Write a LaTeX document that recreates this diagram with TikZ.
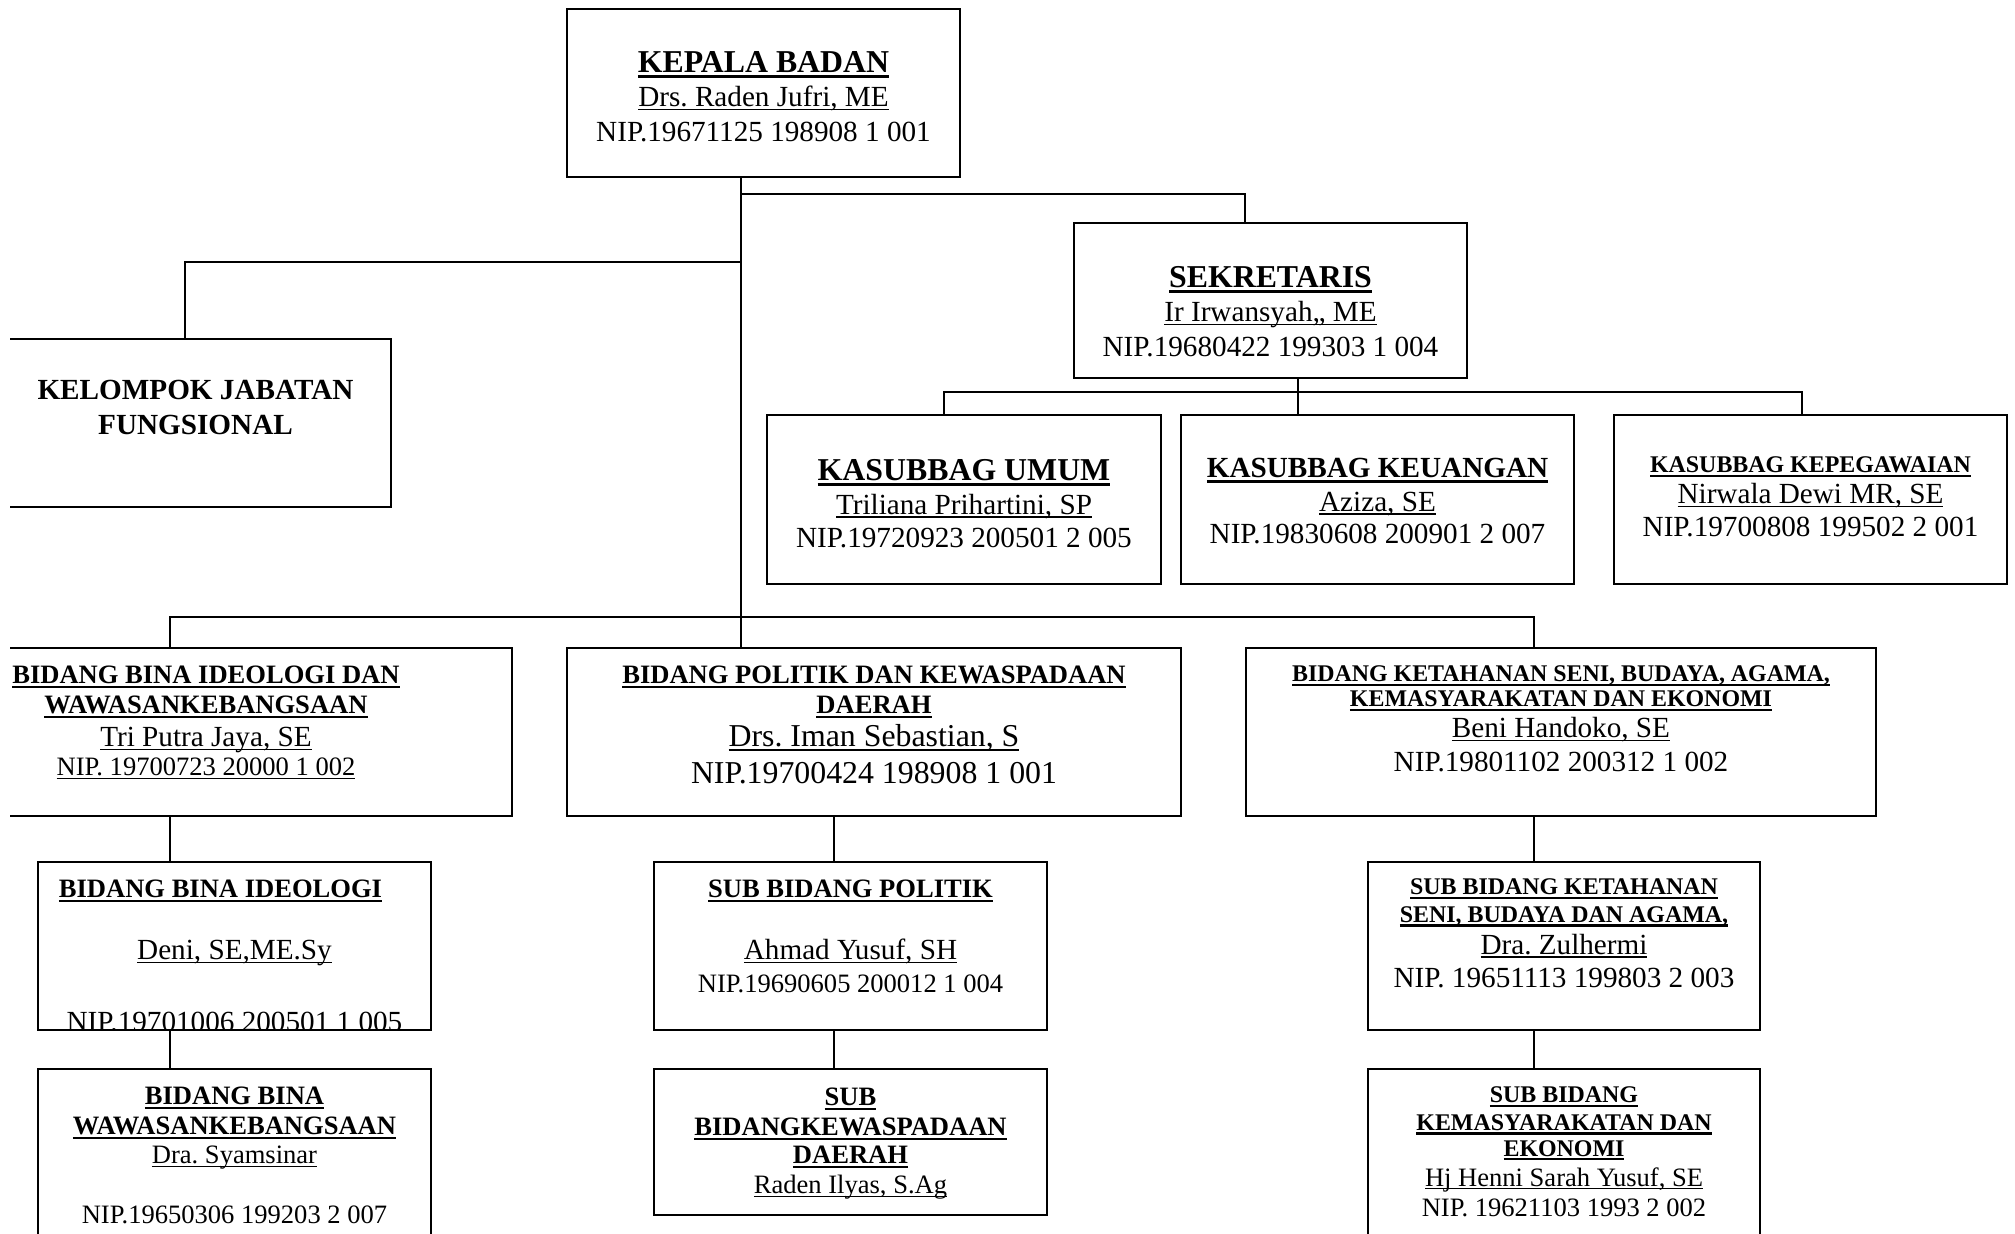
\documentclass[tikz,border=0pt]{standalone}
\usepackage{fontspec}
\setmainfont{Liberation Serif}
\usepackage{tikz}
\usetikzlibrary{calc}
\frenchspacing
% ukuran huruf (12, 11, 10, 9 pt dokumen asli)
\newcommand{\szXII}{\fontsize{9.05pt}{10.4pt}\selectfont}
\newcommand{\szXI}{\fontsize{8.3pt}{9.5pt}\selectfont}
\newcommand{\szX}{\fontsize{7.55pt}{8.7pt}\selectfont}
\newcommand{\szIX}{\fontsize{6.8pt}{7.8pt}\selectfont}
\newcommand{\isi}{\fontsize{8.3pt}{.30cm}\selectfont\lineskiplimit=-1cm\relax}
\newcommand{\garis}[2]{\leavevmode\setbox0=\hbox{#2}\rlap{\rule[\dimexpr-.07em-#1\relax]{\wd0}{#1}}\box0}
\newcommand{\jdl}[2]{{#1\bfseries\garis{.1em}{#2}}}
\newcommand{\nm}[2]{{#1\garis{.05em}{#2}}}
\tikzset{
  kotak/.style={draw,line width=.5pt,inner sep=0pt,align=flush center,anchor=north,font=\isi},
  hub/.style={line width=.65pt},
}

\begin{document}
\begin{tikzpicture}[x=0.01cm,y=-0.01cm]
\useasboundingbox (0,0) rectangle (2015,1233);
\clip (10,0) rectangle (2015,1233);

% pimpinan
\node[kotak,text width=3.93cm,text height=.64cm,text depth=1.04cm] (kepala) at (763.5,8)
  {\jdl\szXII{KEPALA BADAN}\\[.04cm]\nm\szXI{Drs. Raden Jufri, ME}\\[.05cm]NIP.19671125 198908 1 001};
\node[kotak,text width=3.93cm,text height=.65cm,text depth=.90cm] (sekr) at (1270.5,222)
  {\jdl\szXII{SEKRETARIS}\\[.04cm]\nm\szXI{Ir Irwansyah,, ME}\\[.05cm]NIP.19680422 199303 1 004};
\node[kotak,text width=3.91cm,text height=.61cm,text depth=1.07cm] (kelompok) at (195.5,338)
  {{\bfseries KELOMPOK JABATAN}\\[.047cm]{\bfseries FUNGSIONAL}};

% sub bagian sekretariat
\node[kotak,text width=3.94cm,text height=.655cm,text depth=1.035cm] (umum) at (964,414)
  {\jdl\szXII{KASUBBAG UMUM}\\[.04cm]\nm\szXI{Triliana Prihartini, SP}\\[.033cm]NIP.19720923 200501 2 005};
\node[kotak,text width=3.93cm,text height=.63cm,text depth=1.06cm] (keuangan) at (1377.5,414)
  {\jdl\szXI{KASUBBAG KEUANGAN}\\[.033cm]\nm\szXI{Aziza, SE}\\[.02cm]NIP.19830608 200901 2 007};
\node[kotak,text width=3.93cm,text height=.58cm,text depth=1.11cm] (kepeg) at (1810.5,414)
  {\jdl\szIX{KASUBBAG KEPEGAWAIAN}\\[.01cm]\nm\szXI{Nirwala Dewi MR, SE}\\[.027cm]NIP.19700808 199502 2 001};

% bidang
\node[kotak,text width=6.12cm,text height=.36cm,text depth=1.32cm] (binaDan) at (206,647)
  {\jdl\szX{BIDANG BINA IDEOLOGI DAN}\\\jdl\szX{WAWASANKEBANGSAAN}\\[.03cm]\nm\szXI{Tri Putra Jaya, SE}\\[-.01cm]\nm\szX{NIP. 19700723 20000 1 002}};
\node[kotak,text width=6.14cm,text height=.36cm,text depth=1.32cm] (politik) at (874,647)
  {\jdl\szX{BIDANG POLITIK DAN KEWASPADAAN}\\\jdl\szX{DAERAH}\\[.03cm]\nm\szXII{Drs. Iman Sebastian, S}\\[.07cm]{\szXII NIP.19700424 198908 1 001}};
\node[kotak,text width=6.30cm,text height=.34cm,text depth=1.34cm] (ketahanan) at (1561,647)
  {\jdl\szIX{BIDANG KETAHANAN SENI, BUDAYA, AGAMA,}\\[-.05cm]\jdl\szIX{KEMASYARAKATAN DAN EKONOMI}\\[.01cm]\nm\szXI{Beni Handoko, SE}\\[.034cm]NIP.19801102 200312 1 002};

% sub bidang
\node[kotak,text width=3.93cm,text height=.36cm,text depth=1.32cm] (bina4) at (234.5,861)
  {\jdl\szX{BIDANG BINA IDEOLOGI}\hbox to .28cm{}\\[.316cm]\nm\szXI{Deni, SE,ME.Sy}};
\node[kotak,text width=3.93cm,text height=.36cm,text depth=1.32cm] (subPol) at (850.5,861)
  {\jdl\szX{SUB BIDANG POLITIK}\\[.316cm]\nm\szXI{Ahmad Yusuf, SH}\\[.034cm]{\szX NIP.19690605 200012 1 004}};
\node[kotak,text width=3.92cm,text height=.33cm,text depth=1.35cm] (subKet) at (1564,861)
  {\jdl\szIX{SUB BIDANG KETAHANAN}\\[-.023cm]\jdl\szIX{SENI, BUDAYA DAN AGAMA,}\\[.016cm]\nm\szXI{Dra. Zulhermi}\\[.034cm]NIP. 19651113 199803 2 003};
\begin{scope}
  \clip (bina4.south west) rectangle (bina4.north east);
  \node[anchor=base,inner sep=0pt,font=\szXI] (bina4nip) at ([yshift=-.01cm]bina4.south) {NIP.19701006 200501 1 005};
\end{scope}

\node[kotak,text width=3.93cm,text height=.36cm,text depth=1.92cm] (wawasan) at (234.5,1068)
  {\jdl\szX{BIDANG BINA}\\\jdl\szX{WAWASANKEBANGSAAN}\\[-.01cm]\nm\szX{Dra. Syamsinar}\\[.30cm]{\szX NIP.19650306 199203 2 007}};
\node[kotak,text width=3.93cm,text height=.37cm,text depth=1.09cm] (kewasp) at (850.5,1068)
  {\jdl\szX{SUB}\\\jdl\szX{BIDANGKEWASPADAAN}\\[-.02cm]\jdl\szX{DAERAH}\\\nm\szX{Raden Ilyas, S.Ag}};
\node[kotak,text width=3.92cm,text height=.34cm,text depth=1.92cm] (kemasy) at (1564,1068)
  {\jdl\szIX{SUB BIDANG}\\[-.024cm]\jdl\szIX{KEMASYARAKATAN DAN}\\[-.043cm]\jdl\szIX{EKONOMI}\\\nm\szX{Hj Henni Sarah Yusuf, SE}\\{\szX NIP. 19621103 1993 2 002}};

% garis komando
\coordinate (jA) at (741,194);
\coordinate (jB) at (741,262);
\coordinate (jC) at (741,617);
\coordinate (jD) at (1298,392);
\coordinate (kA) at (170,0);
\coordinate (kB) at (834,0);
\coordinate (kC) at (1534,0);
\draw[hub] (kepala.south -| jA) -- (politik.north -| jA);
\draw[hub] (jA) -| ([xshift=-.255cm]sekr.north);
\draw[hub] (jB) -| ([xshift=-.105cm]kelompok.north);
\draw[hub] (sekr.south -| jD) -- (keuangan.north -| jD);
\draw[hub] ([xshift=-.20cm]umum.north) |- (jD) -| ([xshift=-.085cm]kepeg.north);
\draw[hub] ([xshift=-.36cm]binaDan.north) |- (jC) -| ([xshift=-.27cm]ketahanan.north);
\draw[hub] (binaDan.south -| kA) -- (bina4.north -| kA);
\draw[hub] (bina4.south -| kA) -- (wawasan.north -| kA);
\draw[hub] (politik.south -| kB) -- (subPol.north -| kB);
\draw[hub] (subPol.south -| kB) -- (kewasp.north -| kB);
\draw[hub] (ketahanan.south -| kC) -- (subKet.north -| kC);
\draw[hub] (subKet.south -| kC) -- (kemasy.north -| kC);
\end{tikzpicture}
\end{document}
